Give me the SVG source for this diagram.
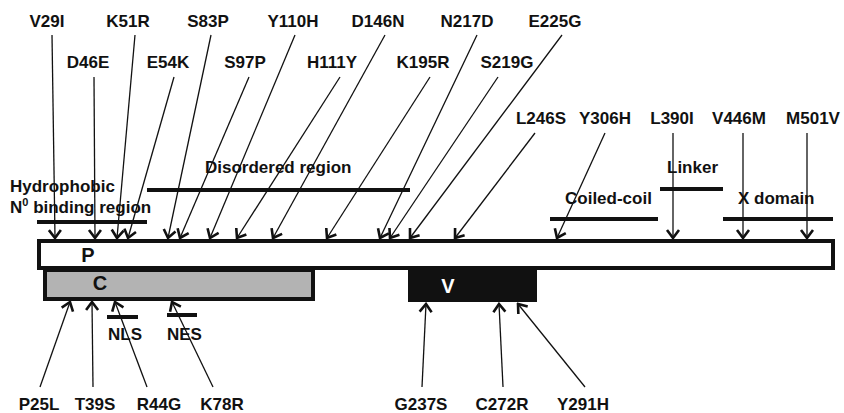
<svg xmlns="http://www.w3.org/2000/svg" width="844" height="413" viewBox="0 0 844 413">
<style>
text{font-family:"Liberation Sans",Arial,sans-serif;font-weight:bold;font-size:17px;fill:#111}
.lab{text-anchor:middle}
.big{font-size:20px}
.c line{stroke:#111;stroke-width:1.3;marker-end:url(#ah)}
.bar{stroke:#111;stroke-width:4}
</style>
<defs>
<marker id="ah" markerUnits="userSpaceOnUse" viewBox="-10 -8 12 16" refX="0" refY="0" markerWidth="12" markerHeight="16" orient="auto">
<path d="M-8,-6 L0,0 L-8,6" fill="none" stroke="#111" stroke-width="2.6"/>
</marker>
</defs>
<rect width="844" height="413" fill="#fff"/>
<g id="protein-P"><rect x="39" y="241" width="794" height="27" fill="#fff" stroke="#111" stroke-width="4"/><text x="88" y="262" class="lab big">P</text></g>
<g id="domain-C"><rect x="45" y="270" width="268" height="29" fill="#b3b3b3" stroke="#111" stroke-width="4"/><text x="100" y="290" class="lab big">C</text></g>
<g id="domain-V"><rect x="408" y="270" width="129" height="32" fill="#111"/><text x="448" y="293" class="lab big" style="fill:#fff">V</text></g>
<g id="region-hydrophobic"><line class="bar" x1="37" y1="222" x2="147" y2="222"/><text x="10" y="192">Hydrophobic</text><text x="10" y="213">N<tspan font-size="11" dy="-7">0</tspan><tspan dy="7"> binding region</tspan></text></g>
<g id="region-disordered"><line class="bar" x1="147" y1="190" x2="410" y2="190"/><text x="205" y="173">Disordered region</text></g>
<g id="region-coiled"><line class="bar" x1="550" y1="219" x2="658" y2="219"/><text x="565" y="204">Coiled-coil</text></g>
<g id="region-linker"><line class="bar" x1="660" y1="189" x2="723" y2="189"/><text x="667" y="173">Linker</text></g>
<g id="region-x"><line class="bar" x1="723" y1="219" x2="833" y2="219"/><text x="738" y="204">X domain</text></g>
<g id="region-nls"><line class="bar" x1="107" y1="317" x2="138" y2="317"/><text x="108" y="340">NLS</text></g>
<g id="region-nes"><line class="bar" x1="167" y1="315" x2="197" y2="315"/><text x="167" y="340">NES</text></g>
<g id="labels-top">
<text class="lab" x="47" y="27">V29I</text>
<text class="lab" x="128" y="27">K51R</text>
<text class="lab" x="208" y="27">S83P</text>
<text class="lab" x="293" y="27">Y110H</text>
<text class="lab" x="378" y="27">D146N</text>
<text class="lab" x="467" y="27">N217D</text>
<text class="lab" x="555" y="27">E225G</text>
<text class="lab" x="88" y="68">D46E</text>
<text class="lab" x="168" y="68">E54K</text>
<text class="lab" x="245" y="68">S97P</text>
<text class="lab" x="332" y="68">H111Y</text>
<text class="lab" x="423" y="68">K195R</text>
<text class="lab" x="507" y="68">S219G</text>
<text class="lab" x="541" y="124">L246S</text>
<text class="lab" x="605" y="124">Y306H</text>
<text class="lab" x="672" y="124">L390I</text>
<text class="lab" x="739" y="124">V446M</text>
<text class="lab" x="813" y="124">M501V</text>
</g>
<g id="labels-bottom">
<text class="lab" x="39" y="410">P25L</text>
<text class="lab" x="95" y="410">T39S</text>
<text class="lab" x="159" y="410">R44G</text>
<text class="lab" x="222" y="410">K78R</text>
<text class="lab" x="421" y="410">G237S</text>
<text class="lab" x="502" y="410">C272R</text>
<text class="lab" x="583" y="410">Y291H</text>
</g>
<g id="connectors" class="c">
<line x1="52" y1="35" x2="55" y2="238"/>
<line x1="94" y1="77" x2="95" y2="238"/>
<line x1="135" y1="35" x2="117" y2="238"/>
<line x1="174" y1="77" x2="128" y2="238"/>
<line x1="211" y1="35" x2="168" y2="238"/>
<line x1="249" y1="77" x2="180" y2="238"/>
<line x1="295" y1="35" x2="210" y2="238"/>
<line x1="340" y1="77" x2="237" y2="238"/>
<line x1="385" y1="35" x2="273" y2="238"/>
<line x1="430" y1="77" x2="327" y2="238"/>
<line x1="477" y1="35" x2="380" y2="238"/>
<line x1="498" y1="77" x2="390" y2="238"/>
<line x1="562" y1="35" x2="410" y2="238"/>
<line x1="535" y1="133" x2="455" y2="238"/>
<line x1="605" y1="133" x2="557" y2="238"/>
<line x1="673" y1="133" x2="673" y2="238"/>
<line x1="743" y1="133" x2="743" y2="238"/>
<line x1="807" y1="133" x2="807" y2="238"/>
<line x1="40" y1="387" x2="70" y2="302"/>
<line x1="93" y1="387" x2="92" y2="302"/>
<line x1="147" y1="387" x2="115" y2="302"/>
<line x1="213" y1="387" x2="172" y2="302"/>
<line x1="422" y1="387" x2="426" y2="304"/>
<line x1="503" y1="387" x2="499" y2="304"/>
<line x1="585" y1="387" x2="518" y2="304"/>
</g>
</svg>
